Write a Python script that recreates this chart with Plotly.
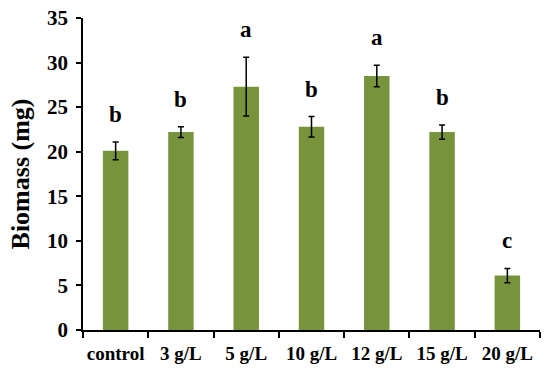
import plotly.graph_objects as go

categories = ["control", "3 g/L", "5 g/L", "10 g/L", "12 g/L", "15 g/L", "20 g/L"]
biomass = [20.1, 22.2, 27.3, 22.8, 28.5, 22.2, 6.1]
errors = [1.0, 0.6, 3.3, 1.15, 1.2, 0.8, 0.8]
letters = ["b", "b", "a", "b", "a", "b", "c"]
y_ticks = [0, 5, 10, 15, 20, 25, 30, 35]

serif = "Liberation Serif"

fig = go.Figure()
fig.add_trace(go.Bar(
    x=categories, y=biomass,
    marker=dict(color="#77933C", line=dict(width=0)),
    width=0.39,
    error_y=dict(type="data", array=errors, visible=True, color="black",
                 thickness=1.5, width=3),
))

for c, v, e, l in zip(categories, biomass, errors, letters):
    fig.add_annotation(x=c, y=v + e, text=l, showarrow=False,
                       yanchor="bottom", yshift=13,
                       font=dict(family=serif, size=23, color="black", weight="bold"))

fig.update_layout(
    width=551, height=383,
    margin=dict(l=83, r=11, t=18, b=53),
    paper_bgcolor="white", plot_bgcolor="white",
    showlegend=False,
)
fig.update_xaxes(
    automargin=False,
    showline=True, linecolor="black", linewidth=1.5,
    ticks="outside", tickson="boundaries", ticklen=6, tickwidth=1.5, tickcolor="black",
    tickfont=dict(family=serif, size=19, color="black", weight="bold"),
    tickangle=0,
    ticklabelstandoff=5,
    showgrid=False,
)
fig.update_yaxes(
    automargin=False,
    range=[0, 35], tickvals=y_ticks,
    showline=True, linecolor="black", linewidth=1.5,
    ticks="outside", ticklen=5, tickwidth=1.5, tickcolor="black",
    tickfont=dict(family=serif, size=21, color="black", weight="bold"),
    ticklabelstandoff=4,
    showgrid=False, zeroline=False,
    title=dict(text="Biomass (mg)", font=dict(family=serif, size=26, color="black", weight="bold"), standoff=10),
)

fig.write_html("out.html", config={"displayModeBar": False},
               post_script="document.body.style.margin='0';")
